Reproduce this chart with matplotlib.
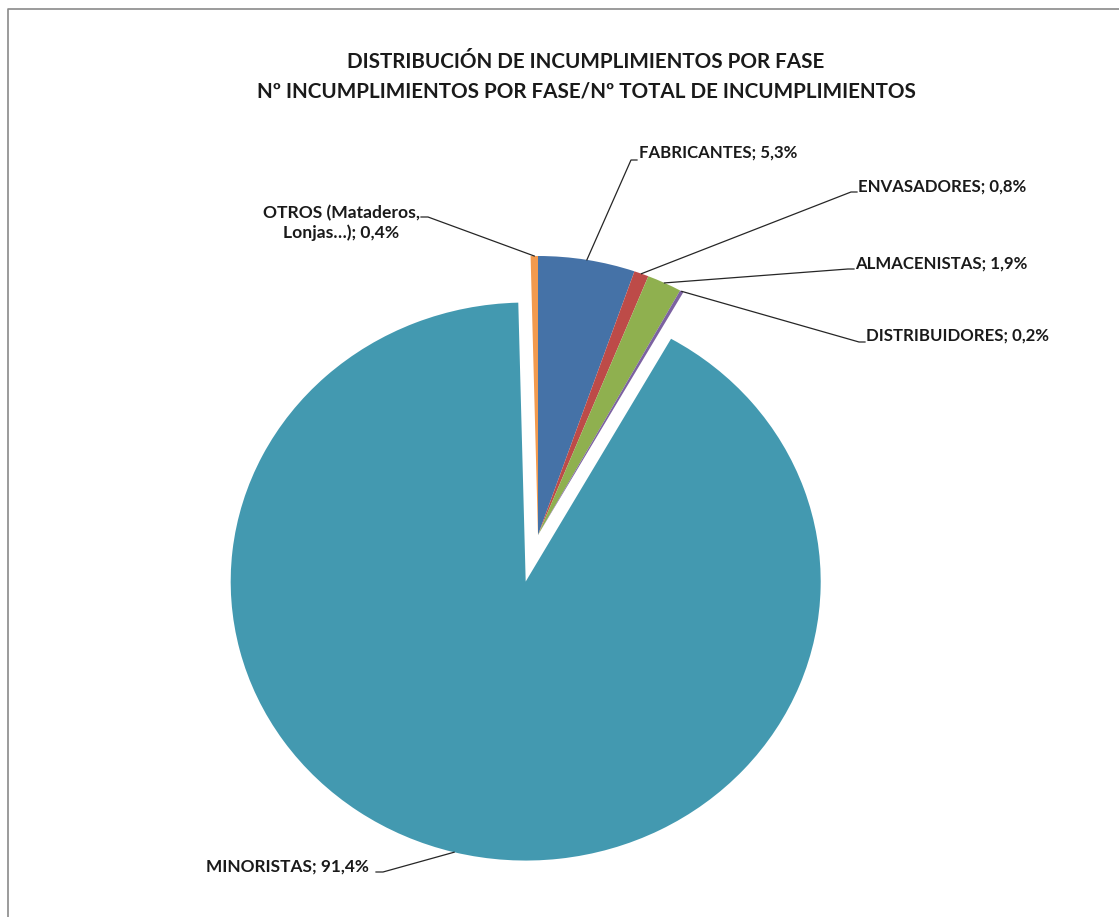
import matplotlib
matplotlib.use('Agg')
import matplotlib.pyplot as plt
import numpy as np

# ---------------- data ----------------
categories = ['FABRICANTES', 'ENVASADORES', 'ALMACENISTAS', 'DISTRIBUIDORES',
              'MINORISTAS', 'OTROS (Mataderos,\nLonjas…)']
values = [5.3, 0.8, 1.9, 0.2, 91.4, 0.4]
value_labels = ['5,3%', '0,8%', '1,9%', '0,2%', '91,4%', '0,4%']
title_lines = ['DISTRIBUCIÓN DE INCUMPLIMIENTOS POR FASE',
               'Nº INCUMPLIMIENTOS POR FASE/Nº TOTAL DE INCUMPLIMIENTOS']

# ---------------- style / layout ----------------
colors = ['#4572A7', '#BD4B48', '#8FB04F', '#7C62A1', '#4399B0', '#F29A4E']
explode = [0, 0, 0, 0, 0.172, 0]
W, H = 1119, 917
CX, CY = 538, 535        # pie centre in pixels
RX, RY = 295, 279        # horizontal / vertical radius in pixels
FONT = 'Lato'

# label layout: (elbow x, elbow y, text x, text y, ha, fontsize) in pixels
label_layout = [
    (631, 160, 639, 153, 'left', 12.1),
    (851, 192, 858, 187, 'left', 12.1),
    (848, 269, 855, 264, 'left', 12.1),
    (859, 342, 866, 336, 'left', 12.1),
    (383, 872, 369, 867, 'right', 12.4),
    (428, 217, 420, 223, 'right', 12.6),
]


def px2d(px, py):
    return (px - CX) / RX, (CY - py) / RY


fig = plt.figure(figsize=(W / 100, H / 100), dpi=100)
fig.patch.set_facecolor('white')
ax = fig.add_axes([0, 0, 1, 1])

wedges, _ = ax.pie(values, colors=colors, startangle=90, counterclock=False,
                   explode=explode, wedgeprops=dict(linewidth=0))
ax.set_aspect('auto')
ax.set_xlim(px2d(0, 0)[0], px2d(W, 0)[0])
ax.set_ylim(px2d(0, H)[1], px2d(0, 0)[1])
ax.axis('off')

# border of chart area
bx0, by0 = px2d(8, 9)
bx1, by1 = px2d(W + 5, H + 5)
ax.plot([bx0, bx0, bx1], [by1, by0, by0], color='#8a8a8a', lw=1.2,
        clip_on=False)

# titles
title_y = [62, 91]
for t, y in zip(title_lines, title_y):
    ax.text(*px2d(586, y), t, ha='center', va='center',
            fontsize=14.85, fontweight='bold', family=FONT, color='#1a1a1a')

# labels with leader lines
for w, cat, vl, (ex, ey, tx, ty, ha, fs) in zip(wedges, categories,
                                               value_labels, label_layout):
    th = np.deg2rad((w.theta1 + w.theta2) / 2)
    cx, cy = w.center
    sx, sy = cx + w.r * np.cos(th), cy + w.r * np.sin(th)
    exd, eyd = px2d(ex, ey)
    stub = px2d(ex + (6 if ha == 'left' else -7), ey)
    ax.plot([sx, exd, stub[0]], [sy, eyd, stub[1]], color='#262626', lw=0.9)
    ax.text(*px2d(tx, ty), f'{cat}; {vl}', ha=ha, va='center',
            multialignment='center', fontsize=fs, fontweight='bold',
            family=FONT, color='#1a1a1a', linespacing=1.3)

fig.savefig('out.png', dpi=100, facecolor='white')
